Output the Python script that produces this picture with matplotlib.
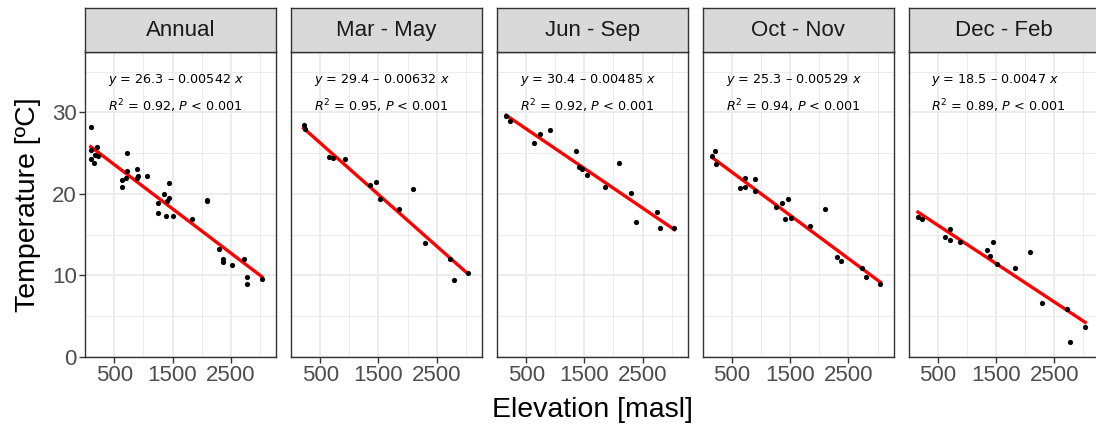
import matplotlib
matplotlib.use("Agg")
import matplotlib.pyplot as plt
import numpy as np
from matplotlib.ticker import FixedLocator

plt.rcParams['font.family'] = ['Liberation Sans', 'DejaVu Sans']
plt.rcParams['mathtext.fontset'] = 'dejavusans'

# ---------------- data ----------------
panels = ["Annual", "Mar - May", "Jun - Sep", "Oct - Nov", "Dec - Feb"]

annual_elev = [94, 94, 208, 168, 225, 94, 151, 723, 723, 627, 627, 701, 885, 912, 895, 1057,
               1445, 1354, 1445, 1411, 1256, 1256, 1388, 1514, 1840, 2088, 2088, 2304, 2373,
               2373, 2527, 2729, 2785, 2785, 3032]
annual_temp = [28.25, 25.4, 25.7, 24.8, 24.6, 24.25, 23.85, 25.0, 22.8, 21.7, 20.9, 21.9, 23.0,
               22.2, 21.9, 22.25, 21.3, 20.0, 19.5, 19.1, 18.9, 17.7, 17.3, 17.3, 16.9, 19.3,
               19.1, 13.25, 12.0, 11.7, 11.3, 12.0, 9.85, 9.0, 9.6]

mam_elev = [213, 230, 643, 718, 918, 1359, 1457, 1526, 1857, 2093, 2304, 2734, 2803, 3038]
mam_temp = [28.5, 27.9, 24.5, 24.4, 24.3, 21.1, 21.4, 19.35, 18.1, 20.6, 14.0, 12.0, 9.5, 10.3]

jjas_elev = [155, 224, 628, 732, 917, 1364, 1404, 1462, 1548, 1851, 2103, 2309, 2385, 2747, 2804, 3045]
jjas_temp = [29.6, 28.9, 26.3, 27.4, 27.85, 25.3, 23.3, 23.1, 22.3, 20.9, 23.8, 20.1, 16.5, 17.8,
             15.8, 15.8]

on_elev = [156, 202, 232, 632, 718, 730, 890, 902, 1263, 1359, 1462, 1405, 1520, 1846, 2104,
           2310, 2379, 2733, 2797, 3050]
on_temp = [24.6, 25.3, 23.7, 20.7, 20.8, 21.9, 21.85, 20.4, 18.4, 18.9, 19.35, 16.9, 17.0, 16.1,
           18.2, 12.3, 11.8, 10.9, 9.8, 9.0]

djf_elev = [156, 225, 627, 713, 713, 885, 1342, 1389, 1446, 1515, 1830, 2088, 2287, 2716, 2774, 3032]
djf_temp = [17.2, 16.9, 14.7, 15.7, 14.35, 14.1, 13.1, 12.4, 14.15, 11.4, 10.9, 12.85, 6.6, 5.85,
            1.9, 3.65]

elevations = [annual_elev, mam_elev, jjas_elev, on_elev, djf_elev]
temperatures = [annual_temp, mam_temp, jjas_temp, on_temp, djf_temp]

intercepts = [26.3, 29.4, 30.4, 25.3, 18.5]
slopes = [-0.00542, -0.00632, -0.00485, -0.00529, -0.0047]
intercept_labels = ["26.3", "29.4", "30.4", "25.3", "18.5"]
slope_labels = ["0.00542", "0.00632", "0.00485", "0.00529", "0.0047"]
r2_labels = ["0.92", "0.95", "0.92", "0.94", "0.89"]
p_label = "0.001"

x_ticks = [500, 1500, 2500]
x_minor = [1000, 2000, 3000]
y_ticks = [0, 10, 20, 30]
y_minor = [5, 15, 25, 35]

# ---------------- layout ----------------
W, H = 1096, 432
fig = plt.figure(figsize=(W / 100, H / 100), dpi=100)

left0 = 85
pitch = 205.9
pw = 190.8
pbottom = H - 357
ph = 305
strip_top = 8
strip_h = 44

grey20 = "#333333"
grid_col = "#EBEBEB"

for i, name in enumerate(panels):
    lx = left0 + i * pitch
    ax = fig.add_axes([lx / W, pbottom / H, pw / W, ph / H])
    ax.set_xlim(-5, 3275)
    ax.set_ylim(0, 37.4)
    ax.xaxis.set_major_locator(FixedLocator(x_ticks))
    ax.xaxis.set_minor_locator(FixedLocator(x_minor))
    ax.yaxis.set_major_locator(FixedLocator(y_ticks))
    ax.yaxis.set_minor_locator(FixedLocator(y_minor))
    ax.grid(True, which='major', color=grid_col, linewidth=1.3)
    ax.grid(True, which='minor', color=grid_col, linewidth=0.7)
    ax.set_axisbelow(True)
    for s in ax.spines.values():
        s.set_color(grey20)
        s.set_linewidth(1.0)
    ax.tick_params(which='minor', length=0)
    ax.tick_params(axis='x', which='major', length=4, width=1.0, color=grey20,
                   labelsize=16, labelcolor="#4D4D4D", pad=2)
    if i == 0:
        ax.tick_params(axis='y', which='major', length=4, width=1.0, color=grey20,
                       labelsize=16, labelcolor="#4D4D4D", pad=2)
    else:
        ax.tick_params(axis='y', which='major', length=0, labelleft=False)

    xs = np.array(elevations[i])
    ys = np.array(temperatures[i])
    xl = np.array([xs.min(), xs.max()])
    ax.plot(xl, intercepts[i] + slopes[i] * xl, color="#FF0000", linewidth=2.4, zorder=2)
    ax.scatter(xs, ys, s=14, color="black", zorder=3, linewidths=0)

    ax.text(0.12, 0.897, r"$y$ = %s – %s $x$" % (intercept_labels[i], slope_labels[i]),
            transform=ax.transAxes, ha='left', va='baseline', fontsize=9.2,
            family='DejaVu Sans', color='black')
    ax.text(0.12, 0.807, r"$R^2$ = %s, $P$ < %s" % (r2_labels[i], p_label),
            transform=ax.transAxes, ha='left', va='baseline', fontsize=9.2,
            family='DejaVu Sans', color='black')

    # strip
    sax = fig.add_axes([lx / W, (H - strip_top - strip_h) / H, pw / W, strip_h / H])
    sax.set_facecolor("#D9D9D9")
    sax.set_xticks([])
    sax.set_yticks([])
    for s in sax.spines.values():
        s.set_color(grey20)
        s.set_linewidth(1.0)
    sax.text(0.5, 0.48, name, transform=sax.transAxes, ha='center', va='center',
             fontsize=16, color="#1A1A1A")

fig.text(592 / W, 1 - 410 / H, "Elevation [masl]", ha='center', va='center',
         fontsize=20.5, color='black')
fig.text(28 / W, 1 - 205 / H, "Temperature [ºC]", ha='center', va='center',
         rotation=90, fontsize=20.5, color='black')

fig.savefig("out.png", dpi=100)
